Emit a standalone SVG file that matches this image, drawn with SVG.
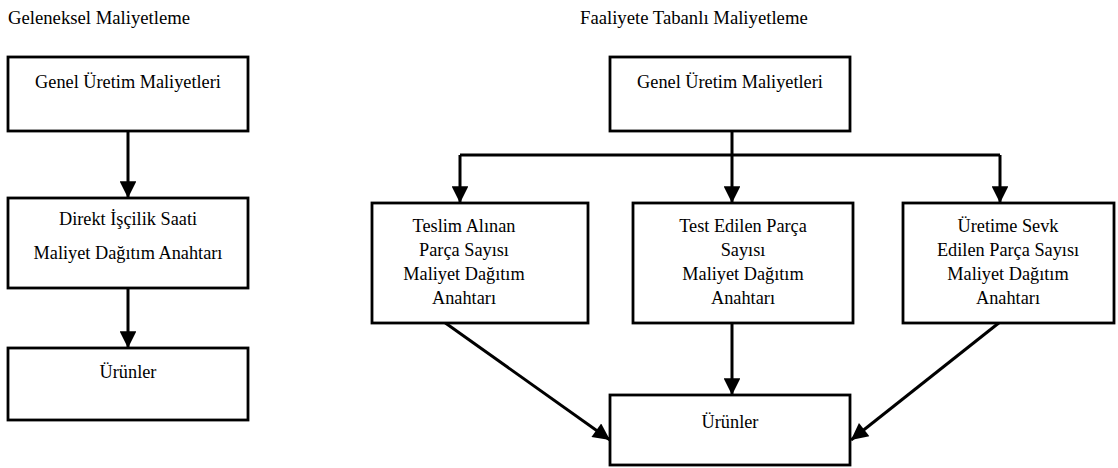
<svg xmlns="http://www.w3.org/2000/svg" width="1118" height="468" viewBox="0 0 1118 468">
  <style>
    .box { fill: #fff; stroke: #000; stroke-width: 2.8; }
    .t { font-family: "Liberation Serif", "Times New Roman", serif; font-size: 18.3px; fill: #000; text-anchor: middle; }
    .title { font-family: "Liberation Serif", "Times New Roman", serif; font-size: 18.7px; fill: #000; }
    .ln { fill: none; stroke: #000; stroke-width: 3; }
  </style>
  <defs>
    <marker id="ah" viewBox="0 0 10 10" refX="10" refY="5" markerWidth="6" markerHeight="5.6" markerUnits="strokeWidth" orient="auto">
      <path d="M0,0 L10,5 L0,10 Z" fill="#000"/>
    </marker>
  </defs>
  <rect width="1118" height="468" fill="#fff"/>

  <!-- section titles -->
  <text class="title" x="8" y="24">Geleneksel Maliyetleme</text>
  <text class="title" x="580" y="24">Faaliyete Tabanlı Maliyetleme</text>

  <!-- connectors -->
  <g id="connectors">
    <line class="ln" x1="128" y1="131" x2="128" y2="198" marker-end="url(#ah)"/>
    <line class="ln" x1="128" y1="279" x2="128" y2="348" marker-end="url(#ah)"/>
    <line class="ln" x1="732" y1="131" x2="732" y2="203" marker-end="url(#ah)"/>
    <path class="ln" d="M460,155 L1000,155"/>
    <line class="ln" x1="460" y1="155" x2="460" y2="203" marker-end="url(#ah)"/>
    <line class="ln" x1="1000" y1="155" x2="1000" y2="203" marker-end="url(#ah)"/>
    <line class="ln" x1="444" y1="322" x2="610" y2="440" marker-end="url(#ah)"/>
    <line class="ln" x1="732" y1="323" x2="732" y2="395" marker-end="url(#ah)"/>
    <line class="ln" x1="1000" y1="322" x2="851" y2="440" marker-end="url(#ah)"/>
  </g>

  <!-- traditional costing -->
  <g id="geleneksel-genel">
    <rect class="box" x="8" y="57" width="240" height="74"/>
    <text class="t" x="128" y="88">Genel Üretim Maliyetleri</text>
  </g>
  <g id="geleneksel-anahtar">
    <rect class="box" x="8" y="198" width="240" height="90"/>
    <text class="t" x="128" y="225">Direkt İşçilik Saati</text>
    <text class="t" x="128" y="259">Maliyet Dağıtım Anahtarı</text>
  </g>
  <g id="geleneksel-urunler">
    <rect class="box" x="8" y="348" width="240" height="72"/>
    <text class="t" x="128" y="378">Ürünler</text>
  </g>

  <!-- activity-based costing -->
  <g id="fm-genel">
    <rect class="box" x="610" y="57" width="240" height="74"/>
    <text class="t" x="730" y="88">Genel Üretim Maliyetleri</text>
  </g>
  <g id="fm-teslim">
    <rect class="box" x="372" y="203" width="216" height="120"/>
    <text class="t" x="464" y="232">Teslim Alınan</text>
    <text class="t" x="464" y="256">Parça Sayısı</text>
    <text class="t" x="464" y="280">Maliyet Dağıtım</text>
    <text class="t" x="464" y="304">Anahtarı</text>
  </g>
  <g id="fm-test">
    <rect class="box" x="633" y="203" width="220" height="120"/>
    <text class="t" x="743" y="232">Test Edilen Parça</text>
    <text class="t" x="743" y="256">Sayısı</text>
    <text class="t" x="743" y="280">Maliyet Dağıtım</text>
    <text class="t" x="743" y="304">Anahtarı</text>
  </g>
  <g id="fm-sevk">
    <rect class="box" x="903" y="203" width="211" height="120"/>
    <text class="t" x="1008" y="232">Üretime Sevk</text>
    <text class="t" x="1008" y="256">Edilen Parça Sayısı</text>
    <text class="t" x="1008" y="280">Maliyet Dağıtım</text>
    <text class="t" x="1008" y="304">Anahtarı</text>
  </g>
  <g id="fm-urunler">
    <rect class="box" x="610" y="395" width="240" height="70"/>
    <text class="t" x="730" y="428">Ürünler</text>
  </g>
</svg>
